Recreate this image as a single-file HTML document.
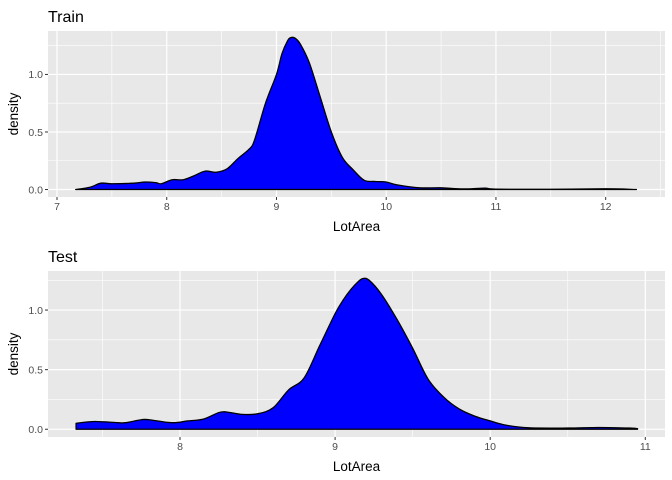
<!DOCTYPE html>
<html><head><meta charset="utf-8"><style>
body{margin:0;background:#fff;}
svg{display:block;font-family:"Liberation Sans",Arial,sans-serif;}
</style></head><body>
<svg id="chart" width="672" height="480" xmlns="http://www.w3.org/2000/svg"></svg>
<script>
// Train panel data
const trainX = [7.17,7.3,7.4,7.5,7.7,7.8,7.9,7.95,8.05,8.15,8.25,8.35,8.45,8.55,8.65,8.75,8.8,8.9,9.0,9.05,9.1,9.13,9.17,9.22,9.3,9.4,9.5,9.6,9.7,9.8,9.9,10.0,10.1,10.3,10.5,10.7,10.9,11.0,11.5,12.0,12.28];
const trainY = [0,0.02,0.055,0.05,0.055,0.065,0.06,0.05,0.085,0.085,0.12,0.16,0.15,0.18,0.27,0.35,0.43,0.75,1.0,1.18,1.29,1.32,1.315,1.26,1.1,0.8,0.5,0.28,0.17,0.08,0.07,0.065,0.04,0.015,0.015,0.005,0.012,0.003,0.002,0.006,0];
const trainXTicks = [7,8,9,10,11,12];
// Test panel data
const testX = [7.33,7.45,7.6,7.65,7.75,7.8,7.95,8.05,8.15,8.25,8.3,8.4,8.5,8.6,8.7,8.8,8.9,9.0,9.05,9.1,9.15,9.18,9.22,9.3,9.4,9.5,9.6,9.7,9.8,9.9,10.0,10.1,10.25,10.5,10.7,10.9,10.95];
const testY = [0.05,0.065,0.055,0.055,0.08,0.08,0.055,0.07,0.085,0.14,0.145,0.125,0.13,0.18,0.33,0.43,0.7,0.97,1.08,1.17,1.24,1.265,1.25,1.13,0.92,0.68,0.42,0.27,0.17,0.11,0.07,0.035,0.012,0.01,0.015,0.01,0.005];
const testXTicks = [8,9,10,11];
const yTicks = [0,0.5,1.0];
const yTickLabels = ["0.0","0.5","1.0"];

const svg = document.getElementById('chart');
const NS = 'http://www.w3.org/2000/svg';
function mk(tag, attrs, parent){
  const e = document.createElementNS(NS, tag);
  for (const k in attrs) e.setAttribute(k, attrs[k]);
  (parent||svg).appendChild(e);
  return e;
}
function panel(cfg){
  const {name,title,xs,ys,xticks,xmin,xmax,ymax,left,right,top,bottom,titleY,xlabY} = cfg;
  const g = mk('g',{});
  
  
  const X = v => left + (v - xmin)/(xmax - xmin)*(right-left);
  const Y = v => bottom - (v - (-0.065))/(ymax + 0.065)*(bottom-top);
  const bg = mk('rect',{x:left,y:top,width:right-left,height:bottom-top,fill:'#e8e8e8'},g);
  
  
  for (let v=Math.ceil(xmin*2)/2; v<=xmax; v+=0.5){
    if (Math.abs(v-Math.round(v))>0.01) mk('line',{x1:X(v),x2:X(v),y1:top,y2:bottom,stroke:'#fff','stroke-width':0.6},g);
  }
  [0.25,0.75,1.25].forEach(v=>{ if(v<ymax) mk('line',{x1:left,x2:right,y1:Y(v),y2:Y(v),stroke:'#fff','stroke-width':0.6},g);});
  xticks.forEach(v=>mk('line',{x1:X(v),x2:X(v),y1:top,y2:bottom,stroke:'#fff','stroke-width':1.2},g));
  yTicks.forEach(v=>mk('line',{x1:left,x2:right,y1:Y(v),y2:Y(v),stroke:'#fff','stroke-width':1.2},g));
  const pts = xs.map((x,i)=>[X(x),Y(ys[i])]);
  let d = `M${pts[0][0]},${Y(0)} L${pts[0][0]},${pts[0][1]}`;
  for (let i=0;i<pts.length-1;i++){
    const p0=pts[Math.max(0,i-1)],p1=pts[i],p2=pts[i+1],p3=pts[Math.min(pts.length-1,i+2)];
    const c1=[p1[0]+(p2[0]-p0[0])/6,p1[1]+(p2[1]-p0[1])/6];
    const c2=[p2[0]-(p3[0]-p1[0])/6,p2[1]-(p3[1]-p1[1])/6];
    d+=` C${c1[0]},${c1[1]} ${c2[0]},${c2[1]} ${p2[0]},${p2[1]}`;
  }
  d+=` L${pts[pts.length-1][0]},${Y(0)} Z`;
  const area = mk('path',{d:d,fill:'#0000ff',stroke:'#000','stroke-width':1.3,'stroke-linejoin':'round'},g);
  
  
  xticks.forEach(v=>{
    mk('line',{x1:X(v),x2:X(v),y1:bottom,y2:bottom+3,stroke:'#333','stroke-width':1},g);
    const t = mk('text',{x:X(v),y:bottom+13,'font-size':10.5,fill:'#4d4d4d','text-anchor':'middle'},g);
    t.textContent = v;
    
    
  });
  yTicks.forEach((v,i)=>{
    mk('line',{x1:left-3,x2:left,y1:Y(v),y2:Y(v),stroke:'#333','stroke-width':1},g);
    const t = mk('text',{x:left-5,y:Y(v)+3.8,'font-size':10.5,fill:'#4d4d4d','text-anchor':'end'},g);
    t.textContent = yTickLabels[i];
    
    
  });
  const tt = mk('text',{x:left,y:titleY,'font-size':16,fill:'#000'},g);
  tt.textContent = title;
  
  
  const xl = mk('text',{x:(left+right)/2,y:xlabY,'font-size':13.5,fill:'#000','text-anchor':'middle'},g);
  xl.textContent = 'LotArea';
  
  
  const cy=(top+bottom)/2;
  const yl = mk('text',{x:18,y:cy,'font-size':13.5,fill:'#000','text-anchor':'middle',transform:`rotate(-90 18 ${cy})`},g);
  yl.textContent = 'density';
  
  
}
panel({name:'train',title:'Train',xs:trainX,ys:trainY,xticks:trainXTicks,
  xmin:7-(57-48)/109.7,xmax:12+(665-605.7)/109.7,ymax:(189-31)/114.7,
  left:48,right:665,top:31,bottom:197,titleY:22,xlabY:231});
panel({name:'test',title:'Test',xs:testX,ys:testY,xticks:testXTicks,
  xmin:8-(180-48)/155.1,xmax:11+(665-645.3)/155.1,ymax:(429-271)/119,
  left:48,right:665,top:271,bottom:437,titleY:262,xlabY:471});
</script>
</body></html>
